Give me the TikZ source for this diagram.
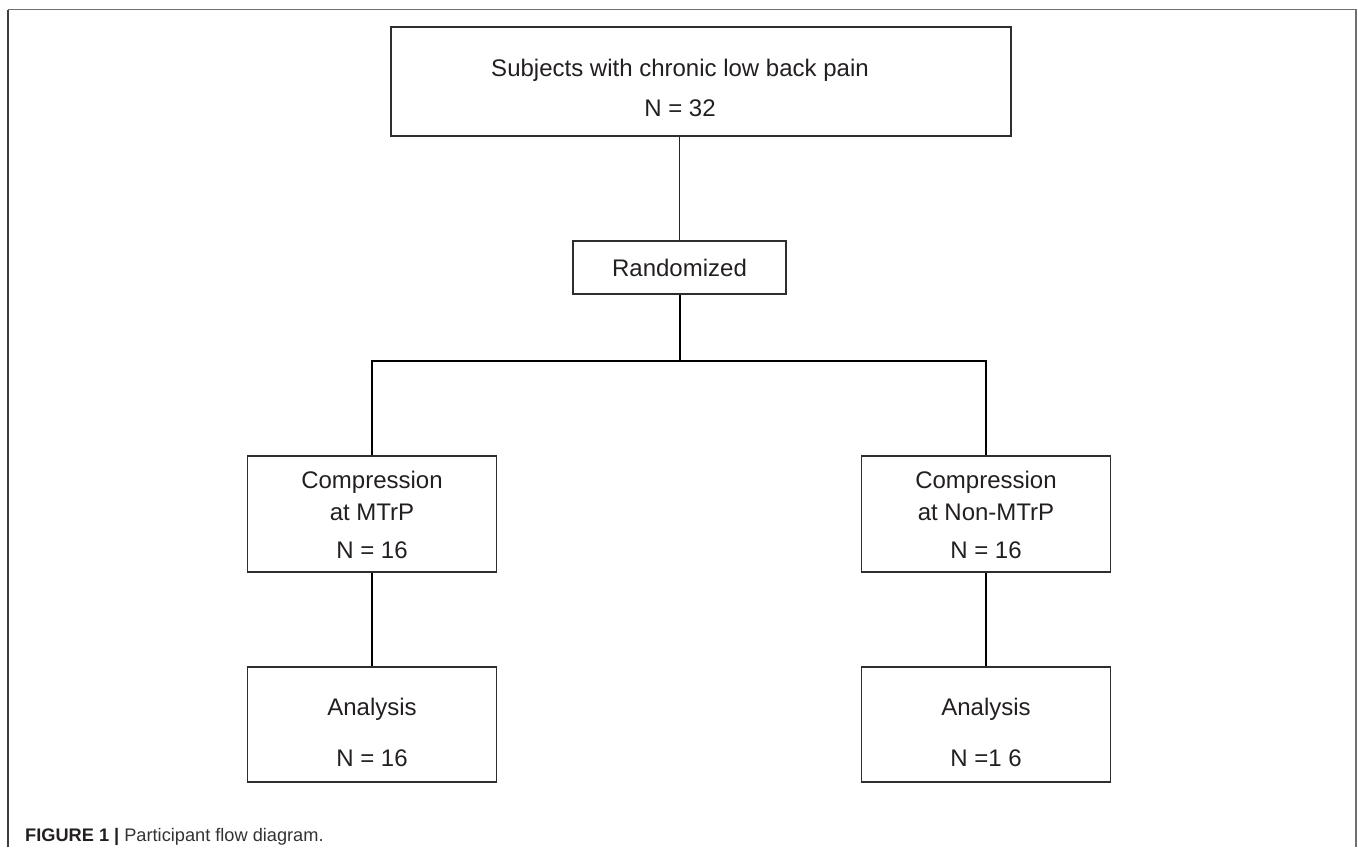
\documentclass[tikz,border=0pt]{standalone}
\usepackage{fontspec}
\setmainfont{Liberation Sans}
\definecolor{boxc}{HTML}{2E2E2E}
\definecolor{txtc}{HTML}{231F20}
\definecolor{framec}{HTML}{707070}
\definecolor{framel}{HTML}{3C3C3C}
\begin{document}
\begin{tikzpicture}[x=1pt,y=-1pt,
  box/.style={draw=boxc, line width=1.3pt, inner sep=0pt},
  txt/.style={font=\fontsize{24}{28}\selectfont, text=txtc, inner sep=0pt},
  thinconn/.style={draw=black!85, line width=1.1pt},
  conn/.style={draw=black, line width=2pt},
  framepen/.style={draw=framec, line width=1.6pt}]
\useasboundingbox (0,0) rectangle (1358,847);
% frame
\draw[framepen] (8,9.5) -- (1356,9.5) -- (1356,847);
\draw[draw=framel, line width=1.4pt] (8,847) -- (8,9.5);
% boxes
\node[box, minimum width=620pt, minimum height=109pt] (top) at (701,81.5) {};
\node[txt] (t1) at (680,70) {Subjects with chronic low back pain};
\node[txt] (t2) at (680,108) {N = 32};
\node[box, minimum width=213pt, minimum height=53pt] (rand) at (679.5,267.5) {};
\node[txt] (rt) at (679.5,268) {Randomized};
\node[box, minimum width=249pt, minimum height=116pt] (cl) at (372,514) {};
\node[txt] (cl1) at (372,482) {Compression};
\node[txt] (cl2) at (372,512) {at MTrP};
\node[txt] (cl3) at (372,550) {N = 16};
\node[box, minimum width=249pt, minimum height=116pt] (cr) at (986,514) {};
\node[txt] (cr1) at (986,482) {Compression};
\node[txt] (cr2) at (986,512) {at Non-MTrP};
\node[txt] (cr3) at (986,550) {N = 16};
\node[box, minimum width=249pt, minimum height=115pt] (al) at (372,724.5) {};
\node[txt] (al1) at (372,709) {Analysis};
\node[txt] (al2) at (372,758) {N = 16};
\node[box, minimum width=249pt, minimum height=115pt] (ar) at (986,724.5) {};
\node[txt] (ar1) at (986,709) {Analysis};
\node[txt] (ar2) at (986,758) {N =1 6};
% connectors
\coordinate (hl) at (0,361);
\draw[thinconn] (top.south -| rand.north) -- (rand.north);
\draw[conn] (rand.south) -- (rand.south |- hl);
\draw[conn] (cl.north) -- (cl.north |- hl) -- (cr.north |- hl) -- (cr.north);
\draw[conn] (cl.south) -- (al.north);
\draw[conn] (cr.south) -- (ar.north);
% caption
\node[anchor=base west, inner sep=0pt, font=\fontsize{18.2}{21}\selectfont, text=txtc] (cap) at (25,841) {\textbf{FIGURE 1 |} {\color{black!80}Participant flow diagram.}};
\end{tikzpicture}
\end{document}
